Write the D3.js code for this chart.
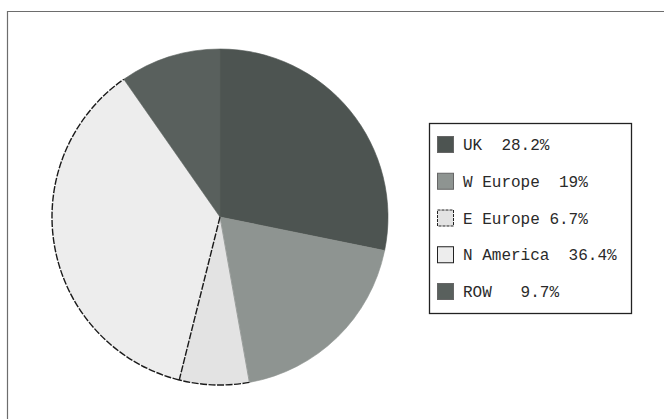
<!DOCTYPE html>
<html>
<head>
<meta charset="utf-8">
<script src="https://cdn.jsdelivr.net/npm/d3@7"></script>
<style>
  html, body { margin: 0; padding: 0; background: #fff; }
  svg { display: block; }
</style>
</head>
<body>
<svg id="chart" width="664" height="419"></svg>
<script>
// Market share by region
const categories = ["UK", "W Europe", "E Europe", "N America", "ROW"];
const shares = [28.2, 19, 6.7, 36.4, 9.7];
const valueLabels = ["28.2%", "19%", "6.7%", "36.4%", "9.7%"];
const gaps = ["  ", "  ", " ", "  ", "   "];
const fills = ["#4d5451", "#8e9491", "#e3e3e3", "#ededed", "#59605d"];
const outlined = [false, false, true, true, false];

const svg = d3.select("#chart");

// page frame
svg.append("path")
  .attr("d", "M7.5,419 L7.5,11.5 L664,11.5")
  .attr("fill", "none")
  .attr("stroke", "#6d6d6d")
  .attr("stroke-width", 1.2);

const cx = 220, cy = 217, r = 168;

const pie = d3.pie().sort(null).value(d => d.v);
const arcs = pie(categories.map((c, i) => ({ c, v: shares[i], i })));
const arc = d3.arc().innerRadius(0).outerRadius(r);

// outer rim only, traced once from start to end angle
function rimPath(d) {
  const p = d3.path();
  const [x0, y0] = d3.pointRadial(d.startAngle, r);
  p.moveTo(x0, y0);
  p.arc(0, 0, r, d.startAngle - Math.PI / 2, d.endAngle - Math.PI / 2);
  return p.toString();
}

const g = svg.append("g").attr("transform", `translate(${cx},${cy})`);

g.selectAll("path.slice")
  .data(arcs)
  .join("path")
  .attr("class", "slice")
  .attr("d", arc)
  .attr("fill", d => fills[d.data.i])
  .attr("stroke", d => outlined[d.data.i] ? "none" : fills[d.data.i])
  .attr("stroke-width", 0.6);

// soft seam between W Europe and E Europe
const seam = arcs[2].startAngle;
g.append("line")
  .attr("x1", 0).attr("y1", 0)
  .attr("x2", d3.pointRadial(seam, r)[0])
  .attr("y2", d3.pointRadial(seam, r)[1])
  .attr("stroke", "#9a9e9c").attr("stroke-width", 1);

// dashed rim on the light slices
g.selectAll("path.edge")
  .data(arcs.filter(d => outlined[d.data.i]))
  .join("path")
  .attr("class", "edge")
  .attr("d", rimPath)
  .attr("fill", "none")
  .attr("stroke", "#1a1a1a")
  .attr("stroke-width", 1.4)
  .attr("stroke-dasharray", "7,1.5");

// dashed divider between E Europe and N America
const div = arcs[3].startAngle;
g.append("line")
  .attr("x1", 0).attr("y1", 0)
  .attr("x2", d3.pointRadial(div, r)[0])
  .attr("y2", d3.pointRadial(div, r)[1])
  .attr("stroke", "#1a1a1a")
  .attr("stroke-width", 1.4)
  .attr("stroke-dasharray", "7,1.5");

// legend
const lx = 429.5, ly = 123.5, lw = 202, lh = 190;
svg.append("rect")
  .attr("x", lx).attr("y", ly).attr("width", lw).attr("height", lh)
  .attr("fill", "#fff").attr("stroke", "#222").attr("stroke-width", 1.3);

const rowY = d3.scalePoint().domain(categories).range([145, 292]);

const items = svg.selectAll("g.item")
  .data(categories)
  .join("g")
  .attr("class", "item")
  .attr("transform", d => `translate(0,${rowY(d)})`);

items.append("rect")
  .attr("x", 437.5).attr("y", -8.5)
  .attr("width", 16).attr("height", 16)
  .attr("fill", (d, i) => fills[i])
  .attr("stroke", (d, i) => outlined[i] ? "#222" : "#666")
  .attr("stroke-width", 1)
  .attr("stroke-dasharray", (d, i) => i === 2 ? "3,1" : null);

items.append("text")
  .attr("x", 463).attr("y", 5)
  .attr("xml:space", "preserve")
  .style("white-space", "pre")
  .attr("font-family", "'Liberation Mono', 'Courier New', monospace")
  .attr("font-size", 16)
  .attr("fill", "#2a2a2a")
  .text((d, i) => d + gaps[i] + valueLabels[i]);
</script>
</body>
</html>
